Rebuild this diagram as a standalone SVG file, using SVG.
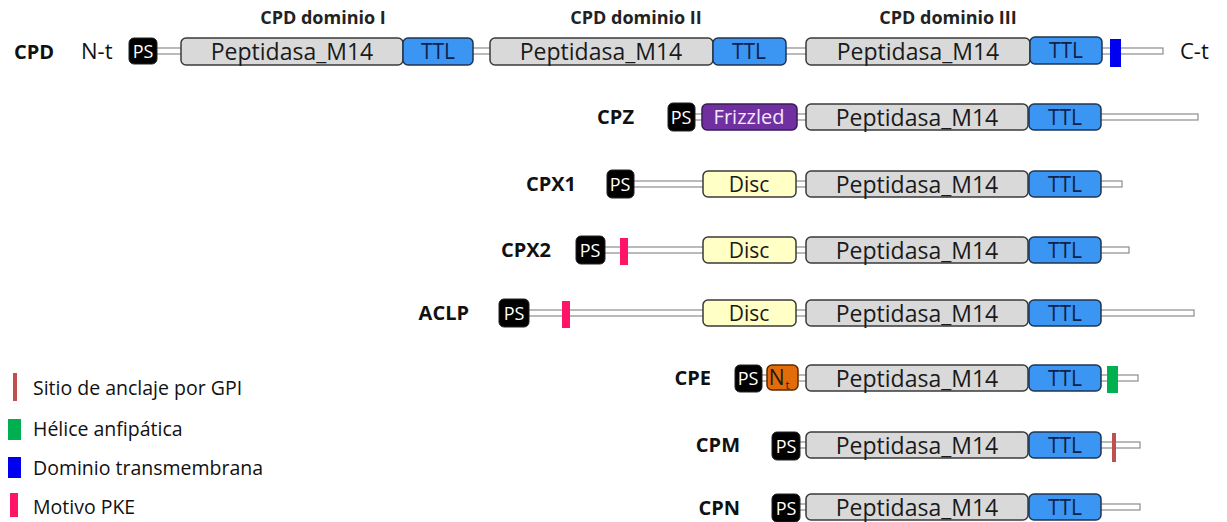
<svg xmlns="http://www.w3.org/2000/svg" width="1227" height="522" viewBox="0 0 1227 522">
<style>
text{font-family:"Open Sans","Noto Sans","Liberation Sans",sans-serif}
.ln{fill:#fff;stroke:#8c8c8c;stroke-width:1.2}
.ps{fill:#000;stroke:#222;stroke-width:1}
.pst{fill:#fff;font-size:18px;text-anchor:middle}
.pep{fill:#d9d9d9;stroke:#3a3a3a;stroke-width:1.5}
.pept{fill:#1a1a1a;font-size:23px;text-anchor:middle}
.ttl{fill:#3b95f2;stroke:#1f3550;stroke-width:1.5}
.ttlt{fill:#10214a;font-size:21px;text-anchor:middle}
.disc{fill:#ffffc6;stroke:#3a3a3a;stroke-width:1.5}
.dt{fill:#1a1a1a;font-size:21px;text-anchor:middle}
.lab{fill:#111;font-size:20px;font-weight:bold;text-anchor:end}
.hdr{fill:#222;font-size:18px;font-weight:bold;text-anchor:middle}
.leg{fill:#111;font-size:19.5px}
.term{font-size:22px;fill:#111}
</style>
<g id="headers">
<text class="hdr" x="323" y="24">CPD dominio I</text>
<text class="hdr" x="636" y="24">CPD dominio II</text>
<text class="hdr" x="948" y="24">CPD dominio III</text>
</g>
<g id="connectors">
<rect class="ln" x="152" y="48" width="1011" height="6"/>
<rect class="ln" x="690" y="114" width="508" height="6"/>
<rect class="ln" x="630" y="181" width="492" height="6"/>
<rect class="ln" x="600" y="247" width="529" height="6"/>
<rect class="ln" x="525" y="310" width="669" height="6"/>
<rect class="ln" x="758" y="375" width="380" height="6"/>
<rect class="ln" x="795" y="442" width="345" height="6"/>
<rect class="ln" x="795" y="504" width="345" height="6"/>
</g>
<g id="row-CPD">
<text class="lab" x="54" y="59">CPD</text>
<text class="term" x="81" y="59">N-t</text>
<text class="term" x="1180" y="59">C-t</text>
<g id="cpd-ps"><rect class="ps" x="129" y="38" width="28" height="26" rx="5"/><text class="pst" x="143" y="58">PS</text></g>
<g id="cpd-pep1"><rect class="pep" x="181" y="38" width="222" height="27" rx="5"/><text class="pept" x="292" y="60">Peptidasa_M14</text></g>
<g id="cpd-ttl1"><rect class="ttl" x="403" y="38" width="70" height="27" rx="5"/><text class="ttlt" x="438" y="59">TTL</text></g>
<g id="cpd-pep2"><rect class="pep" x="490" y="38" width="223" height="27" rx="5"/><text class="pept" x="601" y="60">Peptidasa_M14</text></g>
<g id="cpd-ttl2"><rect class="ttl" x="713" y="38" width="73" height="27" rx="5"/><text class="ttlt" x="749" y="59">TTL</text></g>
<g id="cpd-pep3"><rect class="pep" x="806" y="38" width="224" height="27" rx="5"/><text class="pept" x="918" y="60">Peptidasa_M14</text></g>
<g id="cpd-ttl3"><rect class="ttl" x="1030" y="37" width="72" height="27" rx="5"/><text class="ttlt" x="1066" y="58">TTL</text></g>
<g id="cpd-tm"><rect x="1110" y="39" width="11" height="28" fill="#0000f0"/></g>
</g>
<g id="row-CPZ">
<text class="lab" x="634" y="124">CPZ</text>
<g id="cpz-ps"><rect class="ps" x="668" y="103" width="27" height="28" rx="5"/><text class="pst" x="681" y="124">PS</text></g>
<g id="cpz-frz"><rect x="702" y="104" width="95" height="26" rx="5" fill="#7030a0" stroke="#3a1a5a" stroke-width="1.5"/><text x="749" y="124" style="font-size:20px;fill:#f2e8ff;text-anchor:middle">Frizzled</text></g>
<g id="cpz-pep"><rect class="pep" x="806" y="104" width="222" height="26" rx="5"/><text class="pept" x="917" y="126">Peptidasa_M14</text></g>
<g id="cpz-ttl"><rect class="ttl" x="1029" y="104" width="72" height="26" rx="5"/><text class="ttlt" x="1065" y="125">TTL</text></g>
</g>
<g id="row-CPX1">
<text class="lab" x="576" y="191">CPX1</text>
<g id="cpx1-ps"><rect class="ps" x="607" y="170" width="27" height="28" rx="5"/><text class="pst" x="620" y="191">PS</text></g>
<g id="cpx1-disc"><rect class="disc" x="703" y="171" width="93" height="26" rx="5"/><text class="dt" x="749" y="192">Disc</text></g>
<g id="cpx1-pep"><rect class="pep" x="806" y="171" width="222" height="26" rx="5"/><text class="pept" x="917" y="193">Peptidasa_M14</text></g>
<g id="cpx1-ttl"><rect class="ttl" x="1029" y="171" width="72" height="26" rx="5"/><text class="ttlt" x="1065" y="192">TTL</text></g>
</g>
<g id="row-CPX2">
<text class="lab" x="551" y="257">CPX2</text>
<g id="cpx2-ps"><rect class="ps" x="576" y="236" width="29" height="28" rx="5"/><text class="pst" x="590" y="257">PS</text></g>
<g id="cpx2-pke"><rect x="620" y="238" width="8" height="27" fill="#ff1468"/></g>
<g id="cpx2-disc"><rect class="disc" x="703" y="237" width="93" height="26" rx="5"/><text class="dt" x="749" y="258">Disc</text></g>
<g id="cpx2-pep"><rect class="pep" x="806" y="237" width="222" height="26" rx="5"/><text class="pept" x="917" y="259">Peptidasa_M14</text></g>
<g id="cpx2-ttl"><rect class="ttl" x="1029" y="237" width="72" height="26" rx="5"/><text class="ttlt" x="1065" y="258">TTL</text></g>
</g>
<g id="row-ACLP">
<text class="lab" x="469" y="320">ACLP</text>
<g id="aclp-ps"><rect class="ps" x="499" y="299" width="30" height="28" rx="5"/><text class="pst" x="514" y="320">PS</text></g>
<g id="aclp-pke"><rect x="562" y="301" width="8" height="27" fill="#ff1468"/></g>
<g id="aclp-disc"><rect class="disc" x="703" y="300" width="93" height="26" rx="5"/><text class="dt" x="749" y="321">Disc</text></g>
<g id="aclp-pep"><rect class="pep" x="806" y="300" width="222" height="26" rx="5"/><text class="pept" x="917" y="322">Peptidasa_M14</text></g>
<g id="aclp-ttl"><rect class="ttl" x="1029" y="300" width="72" height="26" rx="5"/><text class="ttlt" x="1065" y="321">TTL</text></g>
</g>
<g id="row-CPE">
<text class="lab" x="711" y="385">CPE</text>
<g id="cpe-ps"><rect class="ps" x="735" y="365" width="27" height="27" rx="5"/><text class="pst" x="748" y="385">PS</text></g>
<g id="cpe-nt"><rect x="767" y="365" width="31" height="25" rx="5" fill="#e36c0a" stroke="#5a2a00" stroke-width="1.5"/><text x="779" y="385" style="font-size:21px;fill:#1a1a1a;text-anchor:middle">N<tspan dx="1" dy="4" style="font-size:11px">t</tspan></text></g>
<g id="cpe-pep"><rect class="pep" x="806" y="365" width="222" height="26" rx="5"/><text class="pept" x="917" y="387">Peptidasa_M14</text></g>
<g id="cpe-ttl"><rect class="ttl" x="1029" y="365" width="72" height="26" rx="5"/><text class="ttlt" x="1065" y="386">TTL</text></g>
<g id="cpe-amph"><rect x="1107" y="366" width="11" height="27" fill="#00b050"/></g>
</g>
<g id="row-CPM">
<text class="lab" x="740" y="452">CPM</text>
<g id="cpm-ps"><rect class="ps" x="772" y="432" width="28" height="28" rx="5"/><text class="pst" x="786" y="453">PS</text></g>
<g id="cpm-pep"><rect class="pep" x="806" y="432" width="222" height="26" rx="5"/><text class="pept" x="917" y="454">Peptidasa_M14</text></g>
<g id="cpm-ttl"><rect class="ttl" x="1029" y="432" width="72" height="26" rx="5"/><text class="ttlt" x="1065" y="453">TTL</text></g>
<g id="cpm-gpi"><rect x="1112" y="433" width="4" height="29" fill="#c0504d"/></g>
</g>
<g id="row-CPN">
<text class="lab" x="740" y="515">CPN</text>
<g id="cpn-ps"><rect class="ps" x="772" y="494" width="28" height="28" rx="5"/><text class="pst" x="786" y="515">PS</text></g>
<g id="cpn-pep"><rect class="pep" x="806" y="494" width="222" height="26" rx="5"/><text class="pept" x="917" y="516">Peptidasa_M14</text></g>
<g id="cpn-ttl"><rect class="ttl" x="1029" y="494" width="72" height="26" rx="5"/><text class="ttlt" x="1065" y="515">TTL</text></g>
</g>
<g id="legend">
<rect x="13" y="373" width="4" height="28" fill="#c0504d"/>
<text class="leg" x="33" y="395">Sitio de anclaje por GPI</text>
<rect x="8" y="419" width="13" height="21" fill="#00b050"/>
<text class="leg" x="33" y="436">Hélice anfipática</text>
<rect x="8" y="457" width="13" height="21" fill="#0000f0"/>
<text class="leg" x="33" y="475">Dominio transmembrana</text>
<rect x="10" y="493" width="8" height="24" fill="#ff1468"/>
<text class="leg" x="33" y="514">Motivo PKE</text>
</g>
</svg>
